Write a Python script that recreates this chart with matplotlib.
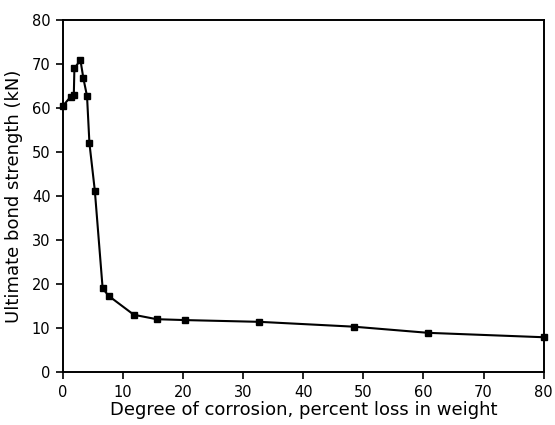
import matplotlib
matplotlib.use("Agg")
import matplotlib.pyplot as plt

# degree of corrosion (% loss in weight) vs ultimate bond strength (kN)
corrosion = [0.0, 1.3, 1.8, 1.9, 2.9, 3.4, 4.0, 4.4, 5.3, 6.6, 7.6,
             11.8, 15.6, 20.3, 32.7, 48.4, 60.8, 80.0]
strength = [60.5, 62.6, 63.0, 69.0, 70.9, 66.7, 62.7, 52.0, 41.2, 19.0, 17.3,
            13.0, 12.0, 11.8, 11.4, 10.3, 8.9, 7.9]

x_ticks = [0, 10, 20, 30, 40, 50, 60, 70, 80]
y_ticks = [0, 10, 20, 30, 40, 50, 60, 70, 80]

fig = plt.figure(figsize=(5.55, 4.25), dpi=100)
ax = fig.add_axes([0.1135, 0.1247, 0.866, 0.8283])

ax.plot(corrosion, strength, color='black', lw=1.5, marker='s',
        markersize=5, markerfacecolor='black', clip_on=False, zorder=3)

ax.set_xlim(0, 80)
ax.set_ylim(0, 80)
ax.set_xticks(x_ticks)
ax.set_yticks(y_ticks)
ax.tick_params(direction='out', length=5, width=1.2, labelsize=10.5, pad=4)
for s in ax.spines.values():
    s.set_linewidth(1.4)

ax.set_xlabel('Degree of corrosion, percent loss in weight', fontsize=13, labelpad=1)
ax.set_ylabel('Ultimate bond strength (kN)', fontsize=13, labelpad=6)

fig.savefig('out.png', dpi=100)
